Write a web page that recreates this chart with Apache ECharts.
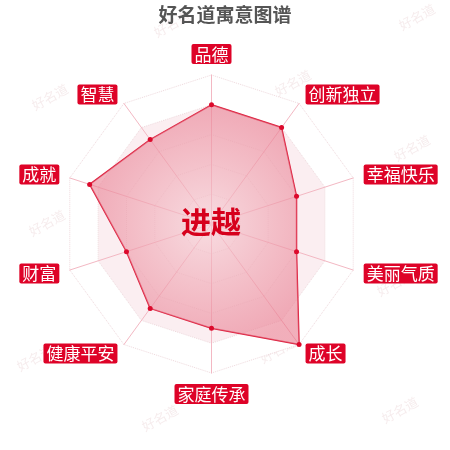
<!DOCTYPE html>
<html>
<head>
<meta charset="utf-8">
<script src="https://cdn.jsdelivr.net/npm/echarts@6/dist/echarts.min.js"></script>
<style>
html,body{margin:0;padding:0;background:#fff;}
#chart{width:450px;height:450px;}
</style>
</head>
<body>
<div id="chart"></div>
<script>
// Indicators in ECharts radar order (counter-clockwise from top)
const categories = ['品德', '智慧', '成就', '财富', '健康平安', '家庭传承', '成长', '美丽气质', '幸福快乐', '创新独立'];
const values = [80, 70, 86, 60, 70, 70, 100, 60, 60, 80];
const maxValue = 100;
const titleText = '好名道寓意图谱';
const centerName = '进越';
const watermarkText = '好名道';

const FONT = 'Noto Sans CJK SC';
const wmSpots = [[172,24],[417,17],[50,97],[293,83],[412,148],[47,223],[293,200],[172,290],[395,283],[35,358],[278,350],[160,418],[400,410]];

const chart = echarts.init(document.getElementById('chart'), null, {renderer: 'canvas'});
chart.setOption({
  backgroundColor: '#ffffff',
  animation: false,
  title: {
    text: titleText,
    left: 'center',
    top: 0,
    textStyle: {fontFamily: FONT, fontSize: 19, fontWeight: 'bold', color: '#555555'}
  },
  graphic: wmSpots.map(p => ({
    type: 'text',
    x: p[0], y: p[1],
    rotation: 0.5,
    z: 0,
    style: {
      text: watermarkText,
      fontFamily: FONT,
      fontSize: 13,
      fill: 'rgba(215,170,175,0.22)',
      align: 'center',
      verticalAlign: 'middle'
    }
  })).concat([{
    type: 'text',
    x: 211, y: 222,
    z: 100,
    style: {
      text: centerName,
      fontFamily: FONT,
      fontSize: 30,
      fontWeight: 'bold',
      fill: '#d6001c',
      align: 'center',
      verticalAlign: 'middle'
    }
  }]),
  radar: {
    center: [211.5, 224],
    radius: 149,
    startAngle: 90,
    splitNumber: 5,
    indicator: categories.map(n => ({name: n, max: maxValue})),
    axisName: {
      fontFamily: FONT,
      fontSize: 17,
      color: '#ffffff',
      backgroundColor: '#de0328',
      borderRadius: 2,
      padding: [2, 3, 1, 3]
    },
    axisNameGap: 11,
    axisLine: {lineStyle: {color: '#f3b8c3', width: 1}},
    splitLine: {lineStyle: {color: '#efd9dd', type: 'dotted', width: 1}},
    splitArea: {
      show: true,
      areaStyle: {color: ['#fdf5f6', '#fcf1f3', '#fcf0f2', '#fbeef1', '#ffffff']}
    }
  },
  series: [{
    type: 'radar',
    symbol: 'circle',
    symbolSize: 5,
    itemStyle: {color: '#dc0a2c'},
    lineStyle: {color: '#dc1e3c', width: 1.5},
    areaStyle: {
      color: new echarts.graphic.RadialGradient(0.55, 0.5, 0.6, [
        {offset: 0, color: 'rgba(245,205,212,0.9)'},
        {offset: 1, color: 'rgba(232,120,140,0.85)'}
      ])
    },
    data: [{value: values, name: centerName}]
  }]
});
</script>
</body>
</html>
